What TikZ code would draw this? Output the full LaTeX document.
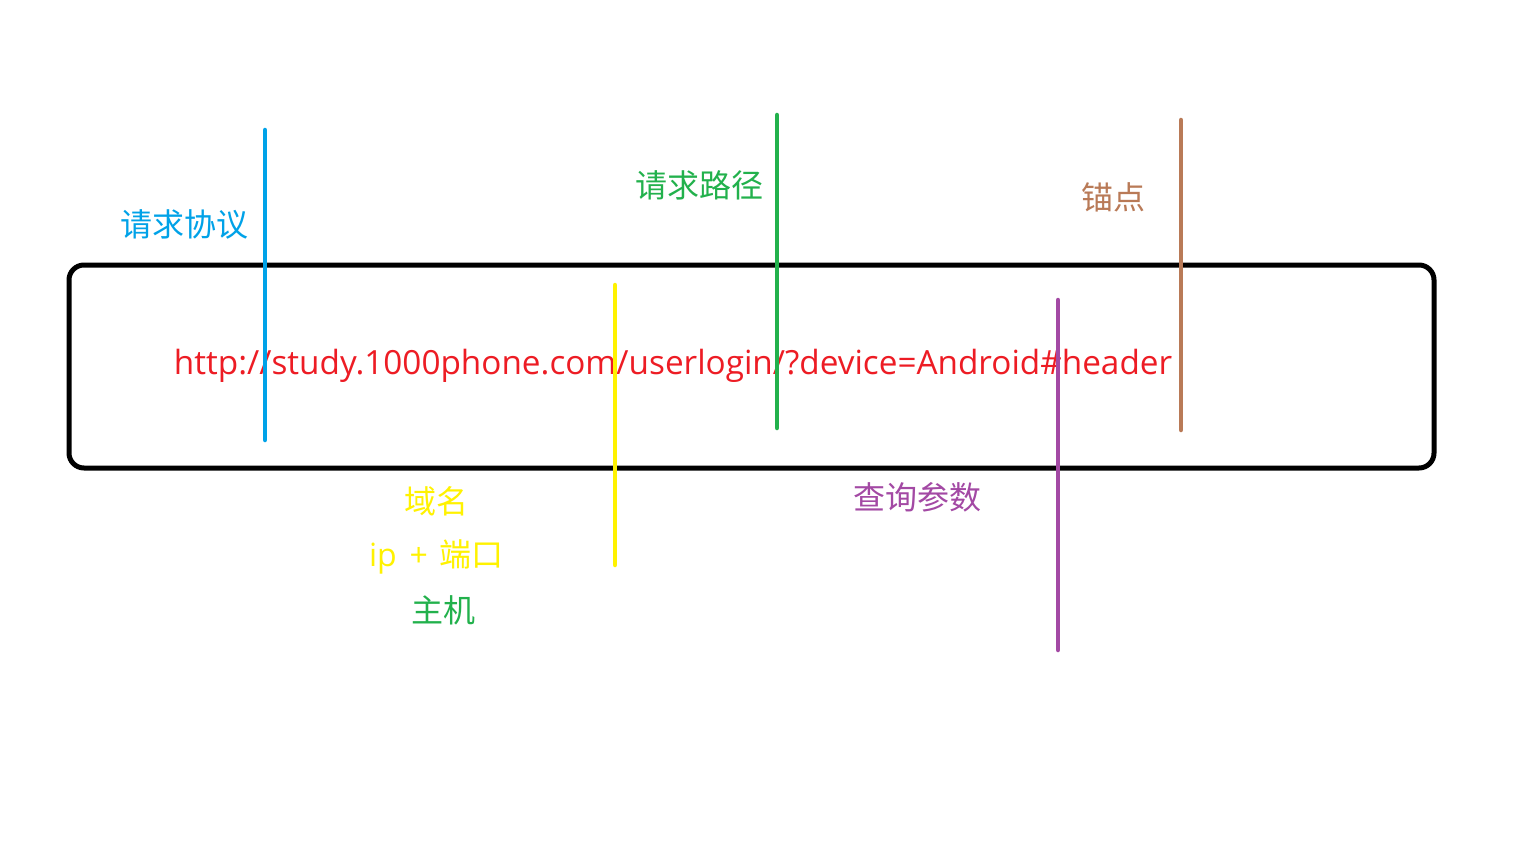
\documentclass[tikz,border=0pt]{standalone}
\usepackage{fontspec}
\setmainfont{Open Sans}
\newfontfamily\cjk{Noto Sans CJK SC}
\definecolor{pblue}{HTML}{00A2E8}
\definecolor{pyellow}{HTML}{FFF200}
\definecolor{pgreen}{HTML}{22B14C}
\definecolor{ppurple}{HTML}{A349A4}
\definecolor{pbrown}{HTML}{B97A57}
\definecolor{pred}{HTML}{ED1C24}
\begin{document}
\begin{tikzpicture}[x=1pt,y=-1pt,
  mark line/.style={line width=4.5pt,line cap=round},
  lbl/.style={inner sep=0pt,font=\cjk\fontsize{32}{38}\selectfont},
  urltext/.style={inner sep=0pt,text=pred,font=\fontsize{33.3}{40}\selectfont}]
\useasboundingbox[fill=white] (0,0) rectangle (1536,864);
\draw[line width=5pt,rounded corners=15pt] (69,265) rectangle (1434,468);
\node[urltext] (url) at (673,366) {http://study.1000phone.com/userlogin/?device=Android\#header};
% marker lines
\coordinate (b1) at (265,130); \coordinate (b2) at (265,440);
\coordinate (y1) at (615,285); \coordinate (y2) at (615,565);
\coordinate (g1) at (777,115); \coordinate (g2) at (777,428);
\coordinate (p1) at (1058,300); \coordinate (p2) at (1058,650);
\coordinate (r1) at (1181,120); \coordinate (r2) at (1181,430);
\draw[mark line,pblue] (b1) -- (b2);
\draw[mark line,pyellow] (y1) -- (y2);
\draw[mark line,pgreen] (g1) -- (g2);
\draw[mark line,ppurple] (p1) -- (p2);
\draw[mark line,pbrown] (r1) -- (r2);
% labels
\node[lbl,text=pblue] (proto) at (184,224) {请求协议};
\node[lbl,text=pgreen] (path) at (699,185) {请求路径};
\node[lbl,text=pbrown] (anchor) at (1113,197) {锚点};
\node[lbl,text=ppurple] (query) at (917,497) {查询参数};
\node[lbl,text=pyellow] (domain) at (436,501) {域名};
\node[lbl,text=pyellow] (ipport) at (436,557) {{\fontspec{Open Sans}ip\hspace{13pt}+\hspace{11pt}}端口};
\node[lbl,text=pgreen] (host) at (443,610) {主机};
\end{tikzpicture}
\end{document}
